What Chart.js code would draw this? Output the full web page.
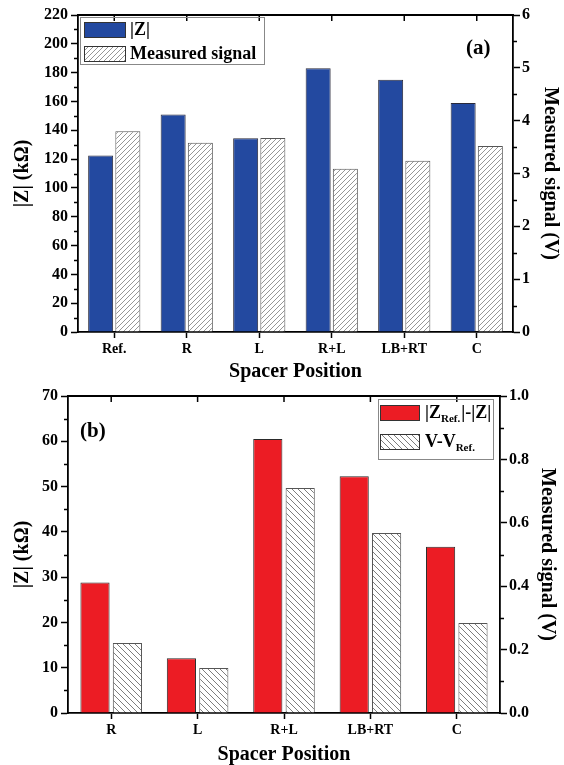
<!DOCTYPE html>
<html>
<head>
<meta charset="utf-8">
<script src="https://cdn.jsdelivr.net/npm/chart.js@4/dist/chart.umd.min.js"></script>
<style>
html, body { margin: 0; padding: 0; background: #fff; }
canvas { display: block; }
</style>
</head>
<body>
<canvas id="chartA" width="564" height="383"></canvas>
<canvas id="chartB" width="564" height="382"></canvas>
<script>
// (a) spacer positions, |Z| in kOhm, measured signal in V
const positionsA = ['Ref.', 'R', 'L', 'R+L', 'LB+RT', 'C'];
const impedanceA = [122.5, 151, 134.5, 183, 175, 159];
const signalA = [3.80, 3.58, 3.67, 3.09, 3.24, 3.52];

// (b) differences against the reference
const positionsB = ['R', 'L', 'R+L', 'LB+RT', 'C'];
const impedanceDiffB = [28.8, 12.1, 60.5, 52.3, 36.7];
const signalDiffB = [0.221, 0.142, 0.710, 0.568, 0.284];

Chart.defaults.font.family = '"Liberation Serif", "Times New Roman", serif';
Chart.defaults.font.weight = 'bold';
Chart.defaults.color = '#000';

function hatch(canvasId, dir, size, line, bg) {
  const c = document.createElement('canvas');
  c.width = size; c.height = size;
  const g = c.getContext('2d');
  g.fillStyle = bg;
  g.fillRect(0, 0, size, size);
  g.strokeStyle = line;
  g.lineWidth = 0.9;
  g.beginPath();
  if (dir === '/') {
    g.moveTo(0, size); g.lineTo(size, 0);
    g.moveTo(-1, 1); g.lineTo(1, -1);
    g.moveTo(size - 1, size + 1); g.lineTo(size + 1, size - 1);
  } else {
    g.moveTo(0, 0); g.lineTo(size, size);
    g.moveTo(-1, size - 1); g.lineTo(1, size + 1);
    g.moveTo(size - 1, -1); g.lineTo(size + 1, 1);
  }
  g.stroke();
  return document.getElementById(canvasId).getContext('2d').createPattern(c, 'repeat');
}

// frame on top, minor ticks, panel tag and the legend box
const decor = {
  id: 'decor',
  afterDraw(chart, args, opts) {
    const ctx = chart.ctx;
    const a = chart.chartArea;
    const x = chart.scales.x;
    ctx.save();
    ctx.strokeStyle = '#000';
    ctx.lineWidth = 1.8;
    ctx.beginPath();
    ctx.moveTo(a.left - 1, a.top);
    ctx.lineTo(a.right + 1, a.top);
    ctx.stroke();

    ctx.lineWidth = 1.5;
    ctx.beginPath();
    x.ticks.forEach((t, i) => {
      const px = x.getPixelForTick(i);
      ctx.moveTo(px, a.top);
      ctx.lineTo(px, a.top + 6);
    });
    [['y', -1], ['y1', 1]].forEach(([id, dir]) => {
      const s = chart.scales[id];
      const step = opts.minor[id];
      const edge = dir < 0 ? a.left : a.right;
      for (let v = s.min + step / 2; v < s.max; v += step) {
        const py = Math.round(s.getPixelForValue(v)) + 0.5;
        ctx.moveTo(edge, py);
        ctx.lineTo(edge + dir * 4, py);
      }
    });
    ctx.stroke();

    ctx.fillStyle = '#000';
    ctx.textBaseline = 'middle';
    ctx.font = 'bold 21px "Liberation Serif"';
    ctx.fillText(opts.tag.text, opts.tag.x, opts.tag.y);

    const lg = opts.legend;
    ctx.strokeStyle = '#888';
    ctx.lineWidth = 1;
    ctx.strokeRect(lg.box[0] + 0.5, lg.box[1] + 0.5, lg.box[2], lg.box[3]);
    lg.rows.forEach((row, i) => {
      const ds = chart.data.datasets[i];
      ctx.fillStyle = ds.backgroundColor;
      ctx.fillRect(lg.sx, row.y, lg.sw, lg.sh);
      ctx.strokeStyle = '#333';
      ctx.strokeRect(lg.sx + 0.5, row.y + 0.5, lg.sw - 1, lg.sh - 1);
      let tx = lg.tx;
      const ty = row.y + lg.sh / 2;
      ctx.fillStyle = '#000';
      row.parts.forEach(p => {
        ctx.font = p.sub ? 'bold 11px "Liberation Serif"' : 'bold 18px "Liberation Serif"';
        ctx.fillText(p.t, tx, p.sub ? ty + 6 : ty);
        tx += ctx.measureText(p.t).width + (p.sub ? 1 : 0);
      });
    });
    ctx.restore();
  }
};

function axisY(pos, max, step, width, titleText, titlePad, fmt) {
  return {
    type: 'linear',
    position: pos,
    min: 0,
    max: max,
    afterFit: s => { s.width = width; },
    grid: { drawOnChartArea: false, tickLength: 7, tickColor: '#000', tickWidth: 1.5 },
    border: { color: '#000', width: 1.8 },
    ticks: {
      stepSize: step,
      padding: pos === 'left' ? 3 : 2,
      font: { size: 16 },
      callback: fmt || (v => v)
    },
    title: { display: true, text: titleText, font: { size: 20, lineHeight: 1 }, padding: { top: titlePad, bottom: 0 } }
  };
}

function axisX(height, titlePad) {
  return {
    type: 'category',
    afterFit: s => { s.height = height; },
    grid: { drawOnChartArea: false, offset: false, tickLength: 6, tickColor: '#000', tickWidth: 1.5 },
    border: { color: '#000', width: 1.8 },
    ticks: { padding: 3, font: { size: 14 } },
    title: { display: true, text: 'Spacer Position', font: { size: 20, lineHeight: 1 }, padding: { top: 0, bottom: titlePad } }
  };
}

const chartA = new Chart(document.getElementById('chartA'), {
  type: 'bar',
  data: {
    labels: positionsA,
    datasets: [{
      label: '|Z|',
      data: impedanceA,
      yAxisID: 'y',
      backgroundColor: '#2349a0',
      borderColor: '#2a2a3a',
      borderWidth: 1,
      categoryPercentage: 0.75,
      barPercentage: 0.92
    }, {
      label: 'Measured signal',
      data: signalA,
      yAxisID: 'y1',
      backgroundColor: hatch('chartA', '/', 5, '#8a8a8a', '#ffffff'),
      borderColor: '#555',
      borderWidth: 1,
      categoryPercentage: 0.75,
      barPercentage: 0.92
    }]
  },
  options: {
    responsive: false,
    animation: false,
    layout: { padding: { top: 15, bottom: 0, left: 0, right: 0 } },
    plugins: {
      legend: { display: false },
      tooltip: { enabled: false },
      decor: {
        minor: { y: 20, y1: 1 },
        tag: { text: '(a)', x: 466, y: 49 },
        legend: {
          box: [80, 17, 184, 47], sx: 84, sw: 42, sh: 16, tx: 130,
          rows: [
            { y: 22, parts: [{ t: '|Z|' }] },
            { y: 46, parts: [{ t: 'Measured signal' }] }
          ]
        }
      }
    },
    scales: {
      x: axisX(51, 1),
      y: axisY('left', 220, 20, 78, '|Z| (kΩ)', 13),
      y1: axisY('right', 6, 1, 51, 'Measured signal (V)', 4)
    }
  },
  plugins: [decor]
});

const chartB = new Chart(document.getElementById('chartB'), {
  type: 'bar',
  data: {
    labels: positionsB,
    datasets: [{
      label: '|Z_Ref.|-|Z|',
      data: impedanceDiffB,
      yAxisID: 'y',
      backgroundColor: '#ec1c24',
      borderColor: '#2a2a2a',
      borderWidth: 1,
      categoryPercentage: 0.75,
      barPercentage: 0.9
    }, {
      label: 'V-V_Ref.',
      data: signalDiffB,
      yAxisID: 'y1',
      backgroundColor: hatch('chartB', '\\', 6, '#6f6f6f', '#ffffff'),
      borderColor: '#555',
      borderWidth: 1,
      categoryPercentage: 0.75,
      barPercentage: 0.9
    }]
  },
  options: {
    responsive: false,
    animation: false,
    layout: { padding: { top: 13, bottom: 0, left: 0, right: 0 } },
    plugins: {
      legend: { display: false },
      tooltip: { enabled: false },
      decor: {
        minor: { y: 10, y1: 0.2 },
        tag: { text: '(b)', x: 80, y: 49 },
        legend: {
          box: [378, 16, 115, 60], sx: 380, sw: 40, sh: 16, tx: 425,
          rows: [
            { y: 22, parts: [{ t: '|Z' }, { t: 'Ref.', sub: true }, { t: '|-|Z|' }] },
            { y: 51, parts: [{ t: 'V-V' }, { t: 'Ref.', sub: true }] }
          ]
        }
      }
    },
    scales: {
      x: axisX(52, 0),
      y: axisY('left', 70, 10, 68, '|Z| (kΩ)', 13),
      y1: axisY('right', 1, 0.2, 64, 'Measured signal (V)', 7, v => v.toFixed(1))
    }
  },
  plugins: [decor]
});
</script>
</body>
</html>
